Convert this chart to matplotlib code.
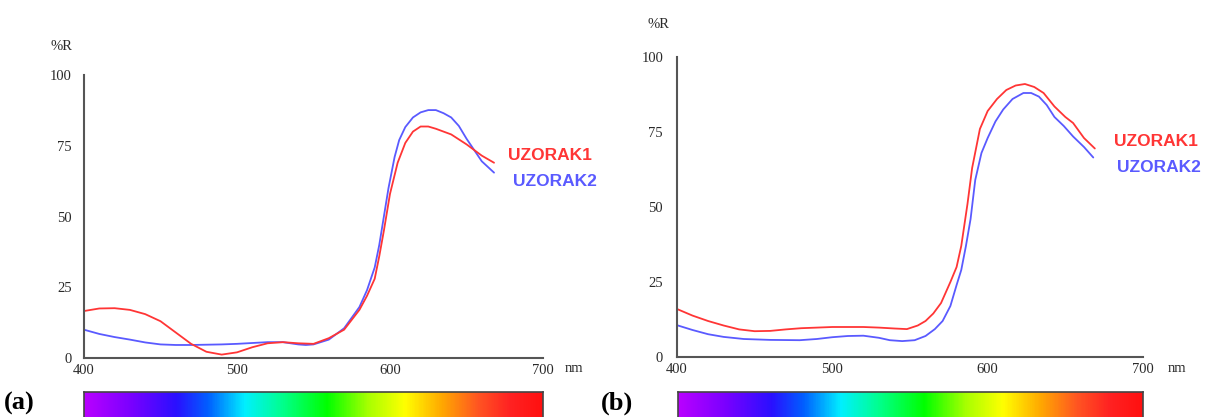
import numpy as np
import matplotlib
matplotlib.use("Agg")
import matplotlib.pyplot as plt
from matplotlib.colors import LinearSegmentedColormap

# ---------------- data ----------------
a_red_wl = [400, 410, 420, 430, 440, 450, 460, 470, 480, 490, 500, 510, 520, 530, 540, 550,
            560, 570, 580, 585, 590, 593, 596, 600, 605, 610, 615, 620, 625, 630, 640, 650, 660, 668]
a_red_R = [16.6, 17.5, 17.6, 17.0, 15.5, 13.0, 9.0, 5.0, 2.2, 1.2, 2.0, 3.8, 5.2, 5.6, 5.2, 5.0,
           7.0, 10.0, 17.0, 22.0, 28.0, 36.0, 45.0, 58.0, 69.0, 76.0, 80.0, 81.8, 81.8, 81.0, 79.0, 75.5, 71.5, 69.0]

a_blue_wl = [400, 410, 420, 430, 440, 450, 460, 470, 480, 490, 500, 510, 520, 530, 540, 545, 550,
             560, 570, 580, 585, 590, 593, 596, 599, 603, 606, 610, 615, 620, 625, 630, 635, 640, 645,
             650, 655, 660, 668]
a_blue_R = [10.0, 8.5, 7.4, 6.5, 5.5, 4.8, 4.6, 4.6, 4.7, 4.8, 5.0, 5.3, 5.6, 5.6, 4.8, 4.6, 4.8,
            6.5, 10.5, 18.0, 24.0, 32.0, 40.0, 50.0, 60.0, 71.0, 77.0, 81.6, 85.0, 86.8, 87.6, 87.6, 86.5, 85.0, 82.0,
            77.5, 73.5, 69.5, 65.5]

b_red_wl = [400, 410, 420, 430, 440, 450, 460, 470, 480, 490, 500, 510, 520, 530, 540, 548, 555,
            560, 565, 570, 576, 580, 583, 587, 590, 595, 600, 606, 612, 618, 624, 630, 636, 643,
            650, 655, 662, 669]
b_red_R = [16.0, 13.8, 12.0, 10.5, 9.2, 8.6, 8.7, 9.2, 9.6, 9.8, 10.0, 10.0, 10.0, 9.8, 9.5, 9.3, 10.5,
           12.0, 14.5, 18.0, 25.0, 30.0, 37.0, 51.0, 63.0, 76.0, 82.0, 86.0, 89.0, 90.5, 91.0, 90.0, 88.0, 83.5,
           80.0, 78.0, 73.0, 69.5]

b_blue_wl = [400, 410, 420, 430, 443, 460, 479, 490, 500, 510, 520, 530, 537, 545, 553, 560, 566,
             571, 576, 580, 583, 586, 589, 592, 596, 600, 605, 610, 616, 623, 628, 633, 638, 643,
             649, 655, 662, 668]
b_blue_R = [10.6, 9.0, 7.6, 6.7, 6.0, 5.7, 5.6, 6.0, 6.6, 7.0, 7.1, 6.4, 5.6, 5.3, 5.6, 7.0, 9.3,
            12.0, 17.0, 24.0, 29.0, 37.0, 46.0, 59.0, 68.0, 73.0, 78.5, 82.5, 86.0, 88.0, 88.0, 86.8, 84.0, 80.0,
            77.0, 73.5, 70.0, 66.5]

x_ticks = [400, 500, 600, 700]
y_ticks = [0, 25, 50, 75, 100]
series_names = ["UZORAK1", "UZORAK2"]
panel_labels = ["(a)", "(b)"]

spec_pos = [0.0, 0.10, 0.20, 0.27, 0.35, 0.43, 0.53, 0.62, 0.70, 0.78, 0.86, 0.93, 1.0]
spec_col = ['#b800ff', '#7a00ff', '#2a10ff', '#0060ff', '#00f0ff', '#00ff90', '#00ff00',
            '#a8ff00', '#ffff00', '#ffaa00', '#ff5522', '#ff2222', '#ff1010']

# ---------------- figure ----------------
W, H = 1206, 417
fig = plt.figure(figsize=(W / 100, H / 100), dpi=100)
fig.patch.set_facecolor('white')

RED = '#ff3535'
BLUE = '#5a5aff'
AX_COL = '#555555'
TXT = '#2a2a2a'
SERIF = ['Liberation Serif', 'DejaVu Serif']
SANS = ['Liberation Sans', 'DejaVu Sans']

spec_cmap = LinearSegmentedColormap.from_list('spec', list(zip(spec_pos, spec_col)))


def px_rect(x0, y0, x1, y1):
    return [x0 / W, 1 - y1 / H, (x1 - x0) / W, (y1 - y0) / H]


def make_panel(rect, red_wl, red_R, blue_wl, blue_R, lab1, lab2, pctR, nm_xy, plab_xy, bar_rect, ypad):
    ax = fig.add_axes(px_rect(*rect))
    ax.plot(blue_wl, blue_R, color=BLUE, lw=1.3, solid_capstyle='round', solid_joinstyle='round')
    ax.plot(red_wl, red_R, color=RED, lw=1.3, solid_capstyle='round', solid_joinstyle='round')
    ax.set_xlim(400, 700)
    ax.set_ylim(0, 100)
    for s in ['top', 'right']:
        ax.spines[s].set_visible(False)
    for s in ['left', 'bottom']:
        ax.spines[s].set_color(AX_COL)
        ax.spines[s].set_linewidth(1.5)
    ax.set_xticks(x_ticks)
    ax.set_yticks(y_ticks)
    ax.set_xticklabels([str(v) for v in x_ticks], fontfamily=SERIF, fontsize=10.5, color=TXT)
    ax.set_yticklabels([str(v) for v in y_ticks], fontfamily=SERIF, fontsize=10.5, color=TXT)
    ax.tick_params(axis='x', length=0, pad=4)
    ax.tick_params(axis='y', length=0, pad=ypad)
    ax.set_xticks([500], minor=True)
    ax.tick_params(axis='x', which='minor', length=2.5, width=1, color=AX_COL)

    fig.text(lab1[0] / W, 1 - lab1[1] / H, series_names[0], color=RED, fontfamily=SANS,
             fontweight='bold', fontsize=12.5, ha='left', va='center')
    fig.text(lab2[0] / W, 1 - lab2[1] / H, series_names[1], color=BLUE, fontfamily=SANS,
             fontweight='bold', fontsize=12.5, ha='left', va='center')
    fig.text(pctR[0] / W, 1 - pctR[1] / H, '%R', fontfamily=SERIF, fontsize=10.5, color=TXT,
             ha='center', va='center')
    fig.text(nm_xy[0] / W, 1 - nm_xy[1] / H, 'nm', fontfamily=SERIF, fontsize=10.5, color=TXT,
             ha='center', va='center')
    fig.text(plab_xy[0] / W, 1 - plab_xy[1] / H, plab_xy[2], fontfamily=SERIF, fontsize=19,
             fontweight='bold', color='black', ha='left', va='center')

    bax = fig.add_axes(px_rect(*bar_rect))
    grad = np.linspace(0, 1, 600).reshape(1, -1)
    bax.imshow(grad, aspect='auto', cmap=spec_cmap, extent=[0, 1, 0, 1])
    bax.set_xticks([])
    bax.set_yticks([])
    for s in bax.spines.values():
        s.set_color('#444444')
        s.set_linewidth(1.2)
    return ax


make_panel((84, 75, 543, 358), a_red_wl, a_red_R, a_blue_wl, a_blue_R,
           (508, 155), (513, 181), (61, 46), (574, 369), (4, 403, panel_labels[0]),
           (84, 392, 543, 420), 9)
make_panel((677, 57, 1143, 357), b_red_wl, b_red_R, b_blue_wl, b_blue_R,
           (1114, 142), (1117, 168), (658, 24), (1177, 369), (601, 403, panel_labels[1]),
           (678, 392, 1143, 420), 10)

fig.savefig('out.png', dpi=100, facecolor='white')
